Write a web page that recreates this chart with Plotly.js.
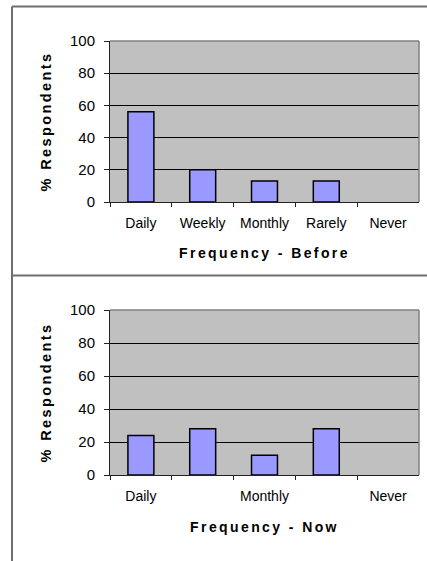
<!DOCTYPE html>
<html>
<head>
<meta charset="utf-8">
<script src="https://cdn.plot.ly/plotly-3.0.1.min.js"></script>
<style>
  html, body { margin: 0; padding: 0; background: #fff; }
  #chart { width: 427px; height: 561px; }
  text.xtitle, text.x2title, text.ytitle, text.y2title { letter-spacing: 2.4px; }
</style>
</head>
<body>
<div id="chart"></div>
<script>
const categories = ['Daily', 'Weekly', 'Monthly', 'Rarely', 'Never'];
const beforeValues = [56, 20, 13, 13, 0];
const nowValues = [24, 28, 12, 28, 0];
const nowTickText = ['Daily', '', 'Monthly', '', 'Never'];

const W = 427, H = 561;
const px = v => v / W;
const py = v => 1 - v / H;

// zero-height bars get no outline, like the original
function barTrace(values, xa, ya) {
    return {
        type: 'bar',
        x: categories,
        y: values,
        xaxis: xa,
        yaxis: ya,
        marker: {
            color: '#9999FF',
            line: { color: '#000', width: values.map(v => (v > 0 ? 1.5 : 0)) }
        },
        hoverinfo: 'x+y',
        showlegend: false
    };
}

const traces = [
    barTrace(beforeValues, 'x', 'y'),
    barTrace(nowValues, 'x2', 'y2')
];

const tickFont = { family: 'Liberation Sans, Arial, sans-serif', size: 14, color: '#000' };
const titleFont = { family: 'Liberation Sans, Arial, sans-serif', size: 14, color: '#000', weight: 'bold' };

function xAxis(domainAnchor, title, ticktext, standoff) {
    return {
        type: 'category',
        domain: [px(110), px(419)],
        anchor: domainAnchor,
        tickson: 'boundaries',
        ticks: 'outside',
        ticklen: 4,
        tickcolor: '#222',
        showline: true,
        linecolor: '#222',
        linewidth: 1,
        showgrid: false,
        tickvals: categories,
        ticktext: ticktext,
        tickfont: tickFont,
        ticklabelstandoff: 8,
        title: { text: title, font: titleFont, standoff: standoff },
        fixedrange: true
    };
}

function yAxis(domain, anchor) {
    return {
        domain: domain,
        anchor: anchor,
        range: [0, 100],
        dtick: 20,
        ticks: 'outside',
        ticklen: 5,
        tickcolor: '#222',
        showline: true,
        linecolor: '#222',
        linewidth: 1,
        showgrid: true,
        gridcolor: '#000',
        gridwidth: 1,
        zeroline: false,
        tickfont: Object.assign({}, tickFont, { size: 15 }),
        ticklabelstandoff: 6,
        title: { text: '% Respondents', font: Object.assign({}, titleFont, { size: 14.5 }), standoff: 14 },
        fixedrange: true
    };
}

const frameLine = { color: '#6e6e6e', width: 2 };
const borderLine = { color: '#808080', width: 1.5 };

const layout = {
    width: W,
    height: H,
    margin: { l: 0, r: 0, t: 0, b: 0 },
    paper_bgcolor: '#fff',
    plot_bgcolor: '#C0C0C0',
    bargap: 0.58,
    xaxis: xAxis('y', 'Frequency - Before', categories, 18),
    yaxis: yAxis([py(202), py(41)], 'x'),
    xaxis2: xAxis('y2', 'Frequency - Now', nowTickText, 19),
    yaxis2: yAxis([py(475), py(310)], 'x2'),
    shapes: [
        // outer frames of the two panels
        { type: 'line', xref: 'paper', yref: 'paper', x0: px(12), x1: px(12), y0: py(6.5), y1: 0, line: frameLine },
        { type: 'line', xref: 'paper', yref: 'paper', x0: px(12), x1: 1, y0: py(6.5), y1: py(6.5), line: frameLine },
        { type: 'line', xref: 'paper', yref: 'paper', x0: px(12), x1: 1, y0: py(275.5), y1: py(275.5), line: frameLine },
        // grey top and right edges of each plot area
        { type: 'line', xref: 'x domain', yref: 'y domain', x0: 0, x1: 1, y0: 1, y1: 1, line: borderLine, layer: 'above' },
        { type: 'line', xref: 'x domain', yref: 'y domain', x0: 1, x1: 1, y0: 0, y1: 1, line: borderLine, layer: 'above' },
        { type: 'line', xref: 'x2 domain', yref: 'y2 domain', x0: 0, x1: 1, y0: 1, y1: 1, line: borderLine, layer: 'above' },
        { type: 'line', xref: 'x2 domain', yref: 'y2 domain', x0: 1, x1: 1, y0: 0, y1: 1, line: borderLine, layer: 'above' }
    ]
};

Plotly.newPlot('chart', traces, layout, { displayModeBar: false, staticPlot: true });
</script>
</body>
</html>
